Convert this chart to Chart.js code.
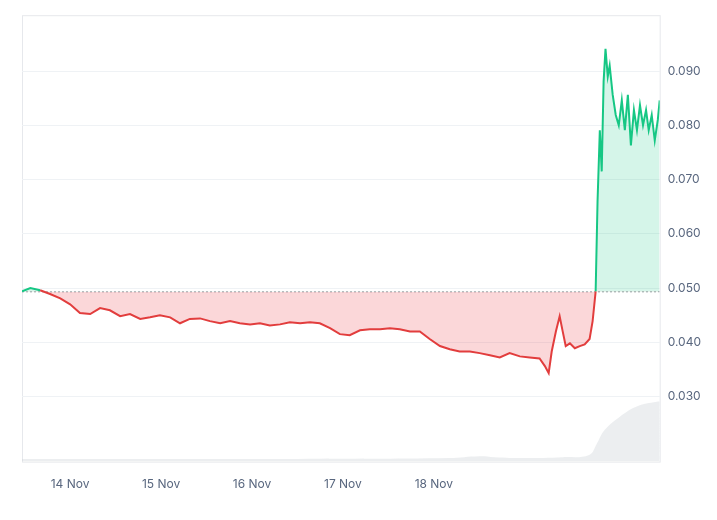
<!DOCTYPE html>
<html>
<head>
<meta charset="utf-8">
<script src="https://cdn.jsdelivr.net/npm/chart.js@4"></script>
<style>
  html, body { margin: 0; padding: 0; background: #fff; }
  #wrap { width: 717px; height: 520px; }
</style>
</head>
<body>
<div id="wrap"><canvas id="priceChart"></canvas></div>
<script>
// hours since 14 Nov 00:00
const times = [-12.7, -10.5, -7.9, -5.3, -2.6, 0, 2.6, 5.3, 7.9, 10.5, 13.2, 15.8, 18.5, 21.1, 23.7,
    26.4, 29, 31.6, 34.3, 36.9, 39.6, 42.2, 44.8, 47.5, 50.1, 52.7, 55.4, 58, 60.7, 63.3, 65.9,
    68.6, 71.2, 73.8, 76.5, 79.1, 81.8, 84.4, 87, 89.7, 92.3, 94.9, 97.6, 100.2, 102.8, 105.5,
    108.1, 110.8, 113.4, 116, 118.7, 121.3, 123.9, 125.3, 126.3, 127.1, 128.2, 129.2, 130, 130.8,
    131.9, 133.2, 134.5, 135.8, 137.1, 137.9, 138.7, 139.2, 139.8, 140.3, 140.8, 141.3, 141.9,
    142.4, 143.2, 144, 144.8, 145.6, 146.4, 147.2, 148, 148.8, 149.6, 150.4, 151.2, 152, 152.7,
    153.5, 154.3, 155.1, 155.6]
const prices = [0.0494, 0.0500, 0.0496, 0.0489, 0.0481, 0.0470, 0.0454, 0.0452, 0.0463, 0.0459,
    0.0448, 0.0452, 0.0443, 0.0446, 0.0450, 0.0446, 0.0435, 0.0443, 0.0444, 0.0439, 0.0435,
    0.0439, 0.0435, 0.0433, 0.0435, 0.0431, 0.0433, 0.0437, 0.0435, 0.0437, 0.0435, 0.0426,
    0.0415, 0.0413, 0.0422, 0.0424, 0.0424, 0.0426, 0.0424, 0.0420, 0.0420, 0.0406, 0.0393,
    0.0387, 0.0383, 0.0383, 0.0380, 0.0376, 0.0372, 0.0380, 0.0374, 0.0372, 0.0370, 0.0356,
    0.0343, 0.0383, 0.0420, 0.0448, 0.0420, 0.0393, 0.0398, 0.0389, 0.0393, 0.0396, 0.0406,
    0.0439, 0.0494, 0.0660, 0.0791, 0.0715, 0.0881, 0.0941, 0.0890, 0.0910, 0.0856, 0.0819,
    0.0800, 0.0846, 0.0791, 0.0856, 0.0763, 0.0828, 0.0791, 0.0837, 0.0800, 0.0828, 0.0791,
    0.0819, 0.0772, 0.0810, 0.0846]
const volTimes = [-12.7, 20, 60, 100, 108, 112, 120, 130, 137, 139, 141, 145, 150, 155.6]
const volumes = [0.6, 0.6, 0.6, 0.8, 1.2, 1.0, 0.8, 1.0, 1.5, 4, 7, 10, 12.5, 13.5]
const baseline = 0.0493
const dayTicks = [0, 24, 48, 72, 96]
const dayLabels = ['14 Nov', '15 Nov', '16 Nov', '17 Nov', '18 Nov']
const priceTicks = [0.03, 0.04, 0.05, 0.06, 0.07, 0.08, 0.09]

const green = '#16c784'
const red = '#e23d3d'

const priceData = times.map((t, i) => ({ x: t, y: prices[i] }))
const volData = volTimes.map((t, i) => ({ x: t, y: volumes[i] }))

const frame = {
    id: 'frame',
    beforeDraw(chart) {
        const { ctx, chartArea: a } = chart
        ctx.save()
        ctx.strokeStyle = '#e6e8ec'
        ctx.lineWidth = 1
        ctx.strokeRect(a.left + 0.5, a.top + 0.5, a.right - a.left, a.bottom - a.top)
        ctx.restore()
    }
}

new Chart(document.getElementById('priceChart'), {
    type: 'line',
    data: {
        datasets: [
            {
                data: priceData,
                borderWidth: 2,
                pointRadius: 0,
                tension: 0,
                borderColor: red,
                segment: {
                    borderColor: c => (c.p1.parsed.y >= baseline && c.p0.parsed.y >= baseline * 0.98) ? green : red
                },
                fill: { target: { value: baseline }, above: 'rgba(22,199,132,0.18)', below: 'rgba(234,57,67,0.2)' },
                order: 1
            },
            {
                data: [{ x: -12.7, y: baseline }, { x: 155.6, y: baseline }],
                borderColor: '#9aa0a8',
                borderWidth: 1,
                borderDash: [2, 2],
                pointRadius: 0,
                fill: false,
                order: 2
            },
            {
                data: volData,
                yAxisID: 'yv',
                borderWidth: 0,
                pointRadius: 0,
                tension: 0.4,
                backgroundColor: 'rgba(200,205,212,0.35)',
                fill: 'origin',
                order: 3
            }
        ]
    },
    options: {
        responsive: true,
        maintainAspectRatio: false,
        animation: false,
        layout: { padding: { left: 22, top: 15, right: 8, bottom: 20 } },
        plugins: { legend: { display: false }, tooltip: { enabled: false } },
        scales: {
            x: {
                type: 'linear',
                min: -12.7,
                max: 155.6,
                grid: { display: false },
                border: { display: false },
                afterBuildTicks: axis => { axis.ticks = dayTicks.map(v => ({ value: v })) },
                ticks: {
                    callback: v => dayLabels[dayTicks.indexOf(v)],
                    color: '#58667e',
                    font: { family: 'Inter', size: 12 },
                    maxRotation: 0,
                    padding: 8
                }
            },
            y: {
                position: 'right',
                min: 0.018,
                max: 0.1003,
                grid: { color: '#eff2f5', drawTicks: false },
                border: { display: false },
                afterBuildTicks: axis => { axis.ticks = priceTicks.map(v => ({ value: v })) },
                ticks: {
                    callback: v => v.toFixed(3),
                    color: '#58667e',
                    font: { family: 'Inter', size: 12 },
                    padding: 8
                }
            },
            yv: { display: false, min: 0, max: 100 }
        }
    },
    plugins: [frame]
})
</script>
</body>
</html>
